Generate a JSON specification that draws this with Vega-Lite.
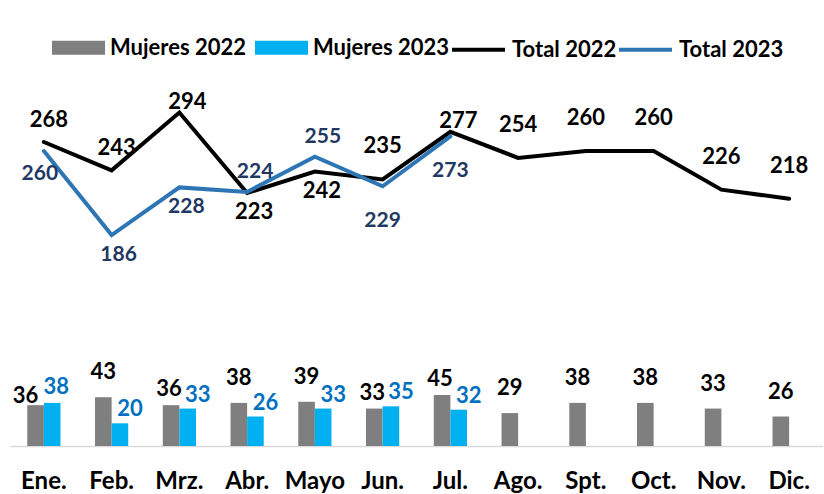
{
  "$schema": "https://vega.github.io/schema/vega-lite/v6.json",
  "autosize": "none",
  "width": 813,
  "height": 397,
  "padding": {"left": 10, "top": 49, "right": 1, "bottom": 48},
  "background": "white",
  "config": {"view": {"stroke": null}, "font": "Lato"},
  "data": {
    "values": [
      {"mes": "Ene.", "serie": "Mujeres 2022", "valor": 36},
      {"mes": "Feb.", "serie": "Mujeres 2022", "valor": 43},
      {"mes": "Mrz.", "serie": "Mujeres 2022", "valor": 36},
      {"mes": "Abr.", "serie": "Mujeres 2022", "valor": 38},
      {"mes": "Mayo", "serie": "Mujeres 2022", "valor": 39},
      {"mes": "Jun.", "serie": "Mujeres 2022", "valor": 33},
      {"mes": "Jul.", "serie": "Mujeres 2022", "valor": 45},
      {"mes": "Ago.", "serie": "Mujeres 2022", "valor": 29},
      {"mes": "Spt.", "serie": "Mujeres 2022", "valor": 38},
      {"mes": "Oct.", "serie": "Mujeres 2022", "valor": 38},
      {"mes": "Nov.", "serie": "Mujeres 2022", "valor": 33},
      {"mes": "Dic.", "serie": "Mujeres 2022", "valor": 26},
      {"mes": "Ene.", "serie": "Mujeres 2023", "valor": 38},
      {"mes": "Feb.", "serie": "Mujeres 2023", "valor": 20},
      {"mes": "Mrz.", "serie": "Mujeres 2023", "valor": 33},
      {"mes": "Abr.", "serie": "Mujeres 2023", "valor": 26},
      {"mes": "Mayo", "serie": "Mujeres 2023", "valor": 33},
      {"mes": "Jun.", "serie": "Mujeres 2023", "valor": 35},
      {"mes": "Jul.", "serie": "Mujeres 2023", "valor": 32},
      {"mes": "Ene.", "serie": "Total 2022", "valor": 268},
      {"mes": "Feb.", "serie": "Total 2022", "valor": 243},
      {"mes": "Mrz.", "serie": "Total 2022", "valor": 294},
      {"mes": "Abr.", "serie": "Total 2022", "valor": 223},
      {"mes": "Mayo", "serie": "Total 2022", "valor": 242},
      {"mes": "Jun.", "serie": "Total 2022", "valor": 235},
      {"mes": "Jul.", "serie": "Total 2022", "valor": 277},
      {"mes": "Ago.", "serie": "Total 2022", "valor": 254},
      {"mes": "Spt.", "serie": "Total 2022", "valor": 260},
      {"mes": "Oct.", "serie": "Total 2022", "valor": 260},
      {"mes": "Nov.", "serie": "Total 2022", "valor": 226},
      {"mes": "Dic.", "serie": "Total 2022", "valor": 218},
      {"mes": "Ene.", "serie": "Total 2023", "valor": 260},
      {"mes": "Feb.", "serie": "Total 2023", "valor": 186},
      {"mes": "Mrz.", "serie": "Total 2023", "valor": 228},
      {"mes": "Abr.", "serie": "Total 2023", "valor": 224},
      {"mes": "Mayo", "serie": "Total 2023", "valor": 255},
      {"mes": "Jun.", "serie": "Total 2023", "valor": 229},
      {"mes": "Jul.", "serie": "Total 2023", "valor": 273}
    ]
  },
  "encoding": {
    "x": {
      "field": "mes", "type": "ordinal",
      "sort": ["Ene.", "Feb.", "Mrz.", "Abr.", "Mayo", "Jun.", "Jul.", "Ago.", "Spt.", "Oct.", "Nov.", "Dic."],
      "scale": {"paddingInner": 0.51, "paddingOuter": 0.255},
      "title": null,
      "axis": {
        "domainColor": "#D9D9D9", "domainWidth": 1.5, "ticks": false, "grid": false,
        "labelFont": "Lato", "labelFontSize": 24, "labelFontWeight": "bold", "labelColor": "black",
        "labelPadding": 23, "labelAngle": 0
      }
    },
    "y": {"field": "valor", "type": "quantitative", "scale": {"domain": [0, 350], "nice": false}, "axis": null}
  },
  "layer": [
    {
      "transform": [{"filter": "indexof(datum.serie, 'Mujeres') >= 0"}],
      "mark": {"type": "bar"},
      "encoding": {
        "xOffset": {"field": "serie", "type": "nominal", "scale": {"domain": ["Mujeres 2022", "Mujeres 2023"], "paddingInner": 0, "paddingOuter": 0}},
        "fill": {
          "field": "serie", "type": "nominal",
          "scale": {"domain": ["Mujeres 2022", "Mujeres 2023"], "range": ["#7F7F7F", "#00B0F0"]},
          "legend": {
            "orient": "none", "legendX": 42, "legendY": -28, "direction": "horizontal", "title": null,
            "labelFont": "Lato", "labelFontSize": 22, "labelFontWeight": "bold", "labelColor": "black",
            "symbolType": "M-1,-0.26H1V0.26H-1Z", "symbolSize": 2809, "symbolStrokeWidth": 0,
            "labelOffset": 5, "columnPadding": 8, "padding": 0
          }
        }
      }
    },
    {
      "transform": [{"filter": "indexof(datum.serie, 'Total') >= 0"}],
      "mark": {"type": "line", "strokeWidth": 4, "strokeJoin": "miter", "strokeCap": "round"},
      "encoding": {
        "stroke": {
          "field": "serie", "type": "nominal",
          "scale": {"domain": ["Total 2022", "Total 2023"], "range": ["#000000", "#2E75B6"]},
          "legend": {
            "orient": "none", "legendX": 440, "legendY": -28, "direction": "horizontal", "title": null,
            "labelFont": "Lato", "labelFontSize": 22, "labelFontWeight": "bold", "labelColor": "black",
            "symbolType": "stroke", "symbolSize": 2809, "symbolStrokeWidth": 4,
            "labelOffset": 5, "columnPadding": -8, "padding": 0
          }
        }
      }
    },
    {
      "transform": [{"filter": "datum.serie == 'Total 2022' && indexof(['Jun.','Ago.','Spt.','Oct.','Nov.','Dic.'], datum.mes) >= 0"}],
      "mark": {"type": "text", "font": "Lato", "fontSize": 22, "fontWeight": "bold", "color": "black", "baseline": "middle", "dy": -33},
      "encoding": {"text": {"field": "valor"}}
    },
    {
      "transform": [{"filter": "datum.serie == 'Total 2022' && indexof(['Ene.','Feb.'], datum.mes) >= 0"}],
      "mark": {"type": "text", "font": "Lato", "fontSize": 22, "fontWeight": "bold", "color": "black", "baseline": "middle", "dy": -22, "dx": 5},
      "encoding": {"text": {"field": "valor"}}
    },
    {
      "transform": [{"filter": "datum.serie == 'Total 2022' && indexof(['Mrz.','Jul.'], datum.mes) >= 0"}],
      "mark": {"type": "text", "font": "Lato", "fontSize": 22, "fontWeight": "bold", "color": "black", "baseline": "middle", "dy": -11, "dx": 8},
      "encoding": {"text": {"field": "valor"}}
    },
    {
      "transform": [{"filter": "datum.serie == 'Total 2022' && indexof(['Abr.','Mayo'], datum.mes) >= 0"}],
      "mark": {"type": "text", "font": "Lato", "fontSize": 22, "fontWeight": "bold", "color": "black", "baseline": "middle", "dy": 19, "dx": 7},
      "encoding": {"text": {"field": "valor"}}
    },
    {
      "transform": [{"filter": "datum.serie == 'Total 2023' && datum.mes == 'Ene.'"}],
      "mark": {"type": "text", "font": "Lato", "fontSize": 21, "fontWeight": "bold", "color": "#1F3864", "baseline": "middle", "dy": 23, "dx": -4},
      "encoding": {"text": {"field": "valor"}}
    },
    {
      "transform": [{"filter": "datum.serie == 'Total 2023' && indexof(['Feb.','Mrz.'], datum.mes) >= 0"}],
      "mark": {"type": "text", "font": "Lato", "fontSize": 21, "fontWeight": "bold", "color": "#1F3864", "baseline": "middle", "dy": 20, "dx": 7},
      "encoding": {"text": {"field": "valor"}}
    },
    {
      "transform": [{"filter": "datum.serie == 'Total 2023' && indexof(['Jun.','Jul.'], datum.mes) >= 0"}],
      "mark": {"type": "text", "font": "Lato", "fontSize": 21, "fontWeight": "bold", "color": "#1F3864", "baseline": "middle", "dy": 35},
      "encoding": {"text": {"field": "valor"}}
    },
    {
      "transform": [{"filter": "datum.serie == 'Total 2023' && indexof(['Abr.','Mayo'], datum.mes) >= 0"}],
      "mark": {"type": "text", "font": "Lato", "fontSize": 21, "fontWeight": "bold", "color": "#1F3864", "baseline": "middle", "dy": -20, "dx": 8},
      "encoding": {"text": {"field": "valor"}}
    },
    {
      "transform": [{"filter": "datum.serie == 'Mujeres 2022' && indexof(['Ene.','Mrz.','Jun.','Jul.'], datum.mes) < 0"}],
      "mark": {"type": "text", "font": "Lato", "fontSize": 22, "fontWeight": "bold", "color": "black", "baseline": "middle", "dy": -25},
      "encoding": {"xOffset": {"field": "serie", "type": "nominal"}, "text": {"field": "valor"}}
    },
    {
      "transform": [{"filter": "datum.serie == 'Mujeres 2022' && indexof(['Mrz.','Jun.','Jul.'], datum.mes) >= 0"}],
      "mark": {"type": "text", "font": "Lato", "fontSize": 22, "fontWeight": "bold", "color": "black", "baseline": "middle", "dy": -16, "dx": -2},
      "encoding": {"xOffset": {"field": "serie", "type": "nominal"}, "text": {"field": "valor"}}
    },
    {
      "transform": [{"filter": "datum.serie == 'Mujeres 2022' && datum.mes == 'Ene.'"}],
      "mark": {"type": "text", "font": "Lato", "fontSize": 22, "fontWeight": "bold", "color": "black", "baseline": "middle", "dy": -9, "dx": -10},
      "encoding": {"xOffset": {"field": "serie", "type": "nominal"}, "text": {"field": "valor"}}
    },
    {
      "transform": [{"filter": "datum.serie == 'Mujeres 2023' && datum.mes != 'Ene.'"}],
      "mark": {"type": "text", "font": "Lato", "fontSize": 22, "fontWeight": "bold", "color": "#0070C0", "baseline": "middle", "dy": -14, "dx": 10},
      "encoding": {"xOffset": {"field": "serie", "type": "nominal"}, "text": {"field": "valor"}}
    },
    {
      "transform": [{"filter": "datum.serie == 'Mujeres 2023' && datum.mes == 'Ene.'"}],
      "mark": {"type": "text", "font": "Lato", "fontSize": 22, "fontWeight": "bold", "color": "#0070C0", "baseline": "middle", "dy": -16, "dx": 4},
      "encoding": {"xOffset": {"field": "serie", "type": "nominal"}, "text": {"field": "valor"}}
    }
  ]
}
